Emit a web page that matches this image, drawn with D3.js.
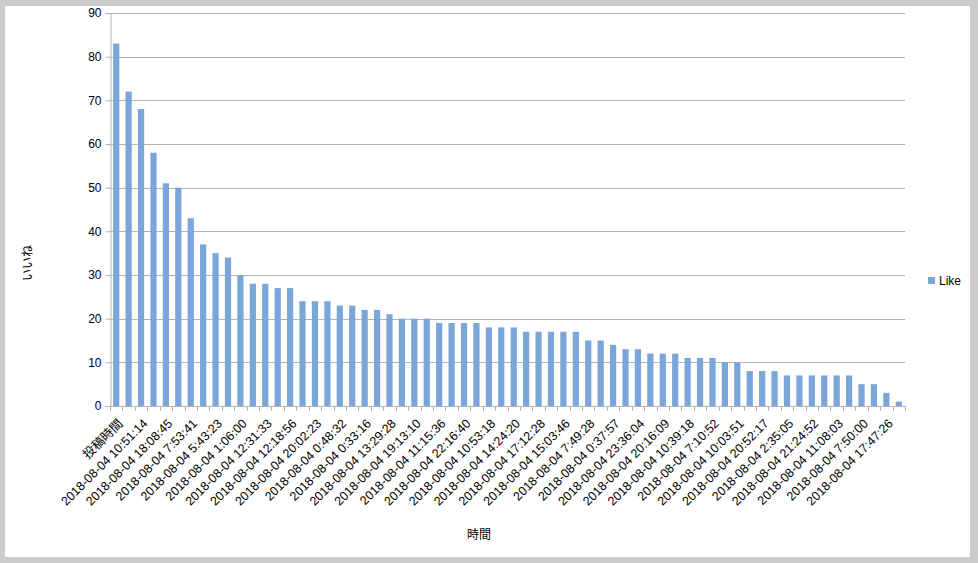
<!DOCTYPE html>
<html>
<head>
<meta charset="utf-8">
<script src="https://cdn.jsdelivr.net/npm/d3@7"></script>
<style>
  html, body { margin: 0; padding: 0; background: #cccccc; }
  svg { display: block; }
  text { font-family: "Liberation Sans", Arial, sans-serif; fill: #000; }
  .cjk { font-family: "Noto Sans CJK JP", "Liberation Sans", sans-serif; }
</style>
</head>
<body>
<svg id="chart" width="978" height="563"></svg>
<script>
// Likes per post, sorted in descending order
const likes = [
  83, 72, 68, 58, 51, 50, 43, 37, 35, 34,
  30, 28, 28, 27, 27, 24, 24, 24, 23, 23,
  22, 22, 21, 20, 20, 20, 19, 19, 19, 19,
  18, 18, 18, 17, 17, 17, 17, 17, 15, 15,
  14, 13, 13, 12, 12, 12, 11, 11, 11, 10,
  10, 8, 8, 8, 7, 7, 7, 7, 7, 7,
  5, 5, 3, 1
];

// Category labels shown on the axis (every second post)
const tickLabels = [
  "投稿時間",
  "2018-08-04 10:51:14", "2018-08-04 18:08:45", "2018-08-04 7:53:41",
  "2018-08-04 5:43:23", "2018-08-04 1:06:00", "2018-08-04 12:31:33",
  "2018-08-04 12:18:56", "2018-08-04 20:02:23", "2018-08-04 0:48:32",
  "2018-08-04 0:33:16", "2018-08-04 13:29:28", "2018-08-04 19:13:10",
  "2018-08-04 11:15:36", "2018-08-04 22:16:40", "2018-08-04 10:53:18",
  "2018-08-04 14:24:20", "2018-08-04 17:12:28", "2018-08-04 15:03:46",
  "2018-08-04 7:49:28", "2018-08-04 0:37:57", "2018-08-04 23:36:04",
  "2018-08-04 20:16:09", "2018-08-04 10:39:18", "2018-08-04 7:10:52",
  "2018-08-04 10:03:51", "2018-08-04 20:52:17", "2018-08-04 2:35:05",
  "2018-08-04 21:24:52", "2018-08-04 11:08:03", "2018-08-04 7:50:00",
  "2018-08-04 17:47:26"
];

const yTicks = [0, 10, 20, 30, 40, 50, 60, 70, 80, 90];
const seriesName = "Like";
const yTitle = "いいね";
const xTitle = "時間";

const barColor = "#7aa6da";
const gridColor = "#b3b3b3";

const svg = d3.select("#chart");

// white chart page inside the grey frame
svg.append("rect")
  .attr("x", 5).attr("y", 6)
  .attr("width", 965).attr("height", 551)
  .attr("fill", "#ffffff");

const plot = { left: 110, right: 905, top: 13, bottom: 406 };

const x = d3.scaleBand()
  .domain(d3.range(likes.length))
  .range([plot.left, plot.right])
  .paddingInner(0.5)
  .paddingOuter(0.25);

const y = d3.scaleLinear()
  .domain([0, 90])
  .range([plot.bottom, plot.top]);

// horizontal grid lines
svg.append("g")
  .selectAll("line")
  .data(yTicks)
  .join("line")
  .attr("x1", plot.left).attr("x2", plot.right)
  .attr("y1", d => Math.round(y(d)) + 0.5)
  .attr("y2", d => Math.round(y(d)) + 0.5)
  .attr("stroke", gridColor)
  .attr("stroke-width", 1);

// y axis
const yAxis = svg.append("g")
  .attr("transform", `translate(${plot.left + 0.5},0)`)
  .call(d3.axisLeft(y).tickValues(yTicks).tickSize(5).tickPadding(4));
yAxis.select(".domain").attr("stroke", gridColor);
yAxis.selectAll(".tick line").attr("stroke", gridColor);
yAxis.selectAll(".tick text")
  .attr("font-size", 12)
  .attr("font-family", "Liberation Sans, Arial, sans-serif");

// bars
svg.append("g")
  .selectAll("rect")
  .data(likes)
  .join("rect")
  .attr("x", (d, i) => x(i))
  .attr("y", d => y(d))
  .attr("width", x.bandwidth())
  .attr("height", d => y(0) - y(d))
  .attr("fill", barColor);

// x axis ticks at category boundaries
const bounds = d3.range(likes.length + 1).map(i => plot.left + i * (plot.right - plot.left) / likes.length);
svg.append("g")
  .selectAll("line")
  .data(bounds)
  .join("line")
  .attr("x1", d => Math.round(d) + 0.5).attr("x2", d => Math.round(d) + 0.5)
  .attr("y1", plot.bottom).attr("y2", plot.bottom + 5)
  .attr("stroke", gridColor);

// category labels, every second category, rotated 45 degrees
svg.append("g")
  .selectAll("text")
  .data(tickLabels)
  .join("text")
  .attr("class", (d, i) => i === 0 ? "cjk" : null)
  .attr("transform", (d, i) => {
    const cx = x(i * 2) + x.bandwidth() / 2;
    return `translate(${cx + 1},${plot.bottom + 12}) rotate(-45)`;
  })
  .attr("text-anchor", "end")
  .attr("dy", "0.71em")
  .attr("font-size", 12.5)
  .text(d => d);

// axis titles
svg.append("text")
  .attr("class", "cjk")
  .attr("transform", "translate(32,263) rotate(-90)")
  .attr("text-anchor", "middle")
  .attr("font-size", 12)
  .text(yTitle);

svg.append("text")
  .attr("class", "cjk")
  .attr("x", 479).attr("y", 539)
  .attr("text-anchor", "middle")
  .attr("font-size", 12)
  .text(xTitle);

// legend
const legend = svg.append("g").attr("transform", "translate(928,277)");
legend.append("rect")
  .attr("width", 7).attr("height", 7)
  .attr("fill", barColor);
legend.append("text")
  .attr("x", 11).attr("y", 8)
  .attr("font-size", 12)
  .text(seriesName);
</script>
</body>
</html>
